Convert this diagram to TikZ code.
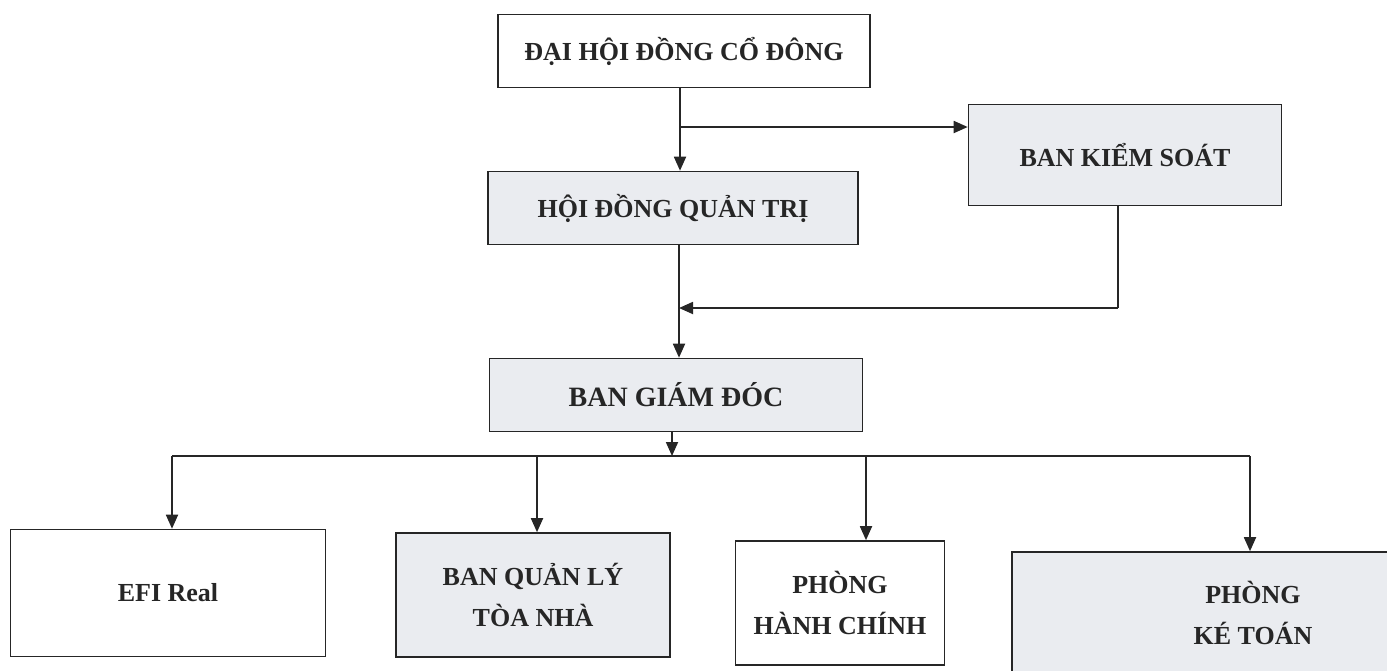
\documentclass[tikz,border=0pt]{standalone}
\usepackage{fontspec}
\setmainfont{Liberation Serif}
\usetikzlibrary{arrows.meta}
\definecolor{shade}{RGB}{234,236,240}
\tikzset{
  box/.style={draw=black!85, line width=1.6pt, rectangle, inner sep=0pt, align=center,
    font=\fontsize{26}{41}\selectfont\bfseries, text=black!85},
  shaded/.style={box, fill=shade},
  plain/.style={box, fill=white},
  conn/.style={draw=black!85, line width=1.8pt},
  arr/.style={conn, -{Triangle[length=14pt,width=12pt]}}
}
\begin{document}
\begin{tikzpicture}[x=1pt,y=-1pt]
\clip (0,0) rectangle (1387,670);
\fill[white] (0,0) rectangle (1387,670);
% nodes
\node[plain, minimum width=372pt, minimum height=73pt] (dh) at (684,51) {ĐẠI HỘI ĐỒNG CỔ ĐÔNG};
\node[shaded, minimum width=313pt, minimum height=101pt] (bks) at (1125,155) {BAN KIỂM SOÁT};
\node[shaded, minimum width=370pt, minimum height=73pt] (hd) at (673,208) {HỘI ĐỒNG QUẢN TRỊ};
\node[shaded, minimum width=373pt, minimum height=73pt, font=\fontsize{28}{41}\selectfont\bfseries] (bgd) at (676,395) {BAN GIÁM ĐÓC};
\node[plain, minimum width=315pt, minimum height=127pt] (efi) at (168,593) {EFI Real};
\node[shaded, minimum width=274pt, minimum height=124pt] (bql) at (533,595) {BAN QUẢN LÝ\\TÒA NHÀ};
\node[plain, minimum width=209pt, minimum height=124pt] (phc) at (840,603) {PHÒNG\\HÀNH CHÍNH};
\node[shaded, minimum width=482pt, minimum height=122pt] (pkt) at (1253,613) {PHÒNG\\KÉ TOÁN};
% junction coordinates
\coordinate (j1) at (680,127);
\coordinate (j2) at (679,308);
\coordinate (k1) at (1118,308);
\coordinate (bus) at (672,456);
\coordinate (bl) at (172,456);
\coordinate (br) at (1250,456);
\coordinate (b2) at (537,456);
\coordinate (b3) at (866,456);
% connectors
\draw[arr] (dh.south -| j1) -- (hd.north -| j1);
\draw[arr] (j1) -- (j1 -| bks.west);
\draw[arr] (hd.south -| j2) -- (bgd.north -| j2);
\draw[conn] (bks.south -| k1) -- (k1);
\draw[arr] (k1) -- (j2);
\draw[arr] (bgd.south -| bus) -- (bus);
\draw[conn] (bl) -- (br);
\draw[arr] (bl) -- (efi.north -| bl);
\draw[arr] (b2) -- (bql.north -| b2);
\draw[arr] (b3) -- (phc.north -| b3);
\draw[arr] (br) -- (pkt.north -| br);
\end{tikzpicture}
\end{document}
